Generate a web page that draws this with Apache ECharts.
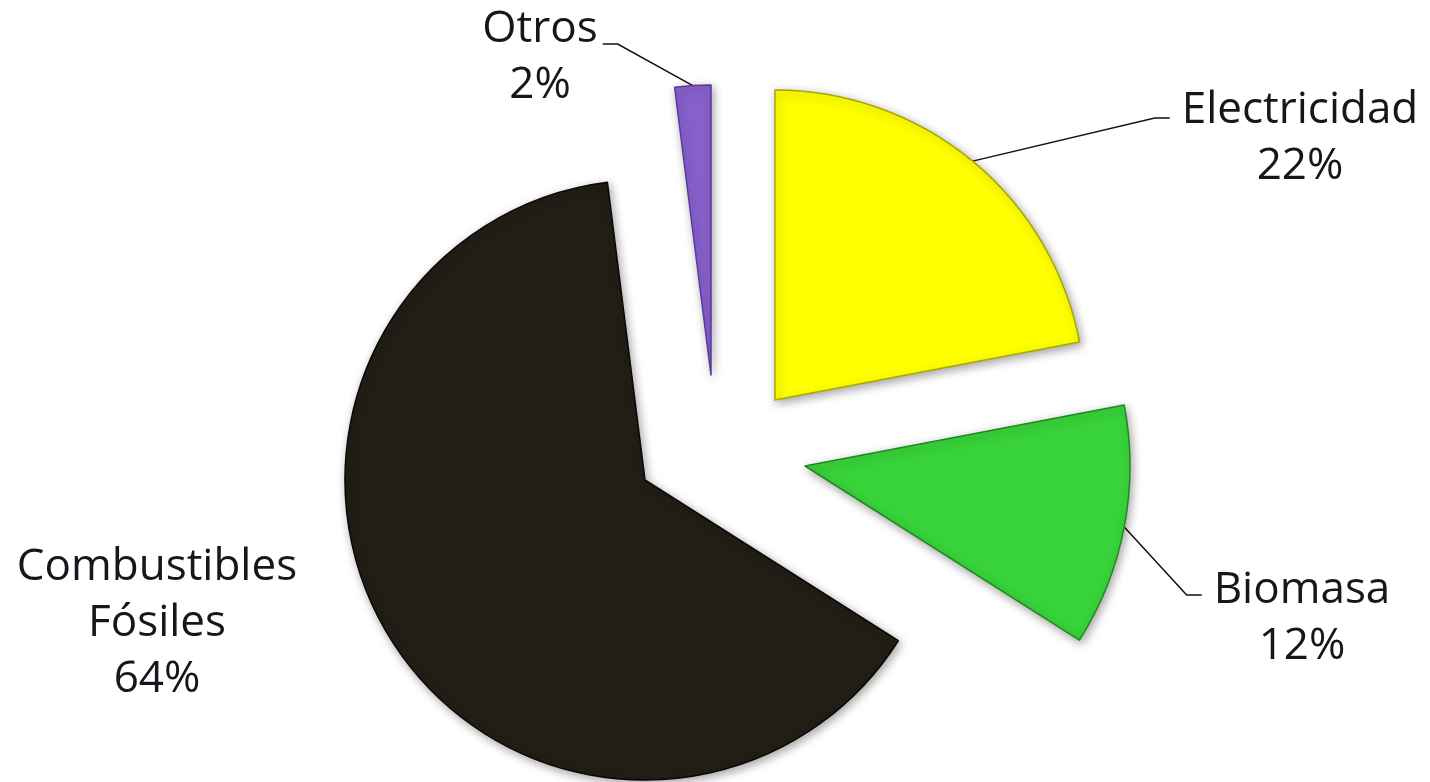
<!DOCTYPE html>
<html>
<head>
<meta charset="utf-8">
<script src="https://cdn.jsdelivr.net/npm/echarts@6/dist/echarts.min.js"></script>
<style>
  html, body { margin: 0; padding: 0; background: #fff; }
  #pieChart { width: 1430px; height: 782px; }
</style>
</head>
<body>
<div id="pieChart"></div>
<script>
  // datos del gráfico
  const categories = ['Electricidad', 'Biomasa', 'Combustibles\nFósiles', 'Otros']
  const shares = [22, 12, 64, 2]

  // estilo / posición de cada porción (separada, "explotada")
  const colors = ['#ffff00', '#38d23a', '#221e16', '#8660cc']
  const borders = ['#a8a800', '#1f8a22', '#0a0805', '#5a3a99']
  const apex = [[775, 400], [805, 466], [645, 480], [711, 375]]
  const radius = [310, 325, 300, 290]
  const labelAt = [[1300, 138], [1302, 618], [157, 623], [540, 57]]
  const lineDrop = [36, 33, 0, 43] // altura de la línea guía dentro del texto

  let chart = echarts.init(document.getElementById('pieChart'))

  function placeLabel(k, params) {
    let w = params.labelRect.width
    let h = params.labelRect.height
    let left = labelAt[k][0] - w / 2
    let top = labelAt[k][1] - h / 2
    let out = { x: labelAt[k][0], y: labelAt[k][1], align: 'center', verticalAlign: 'middle' }
    let pts = params.labelLinePoints
    if (pts && pts.length) {
      let y = top + lineDrop[k]
      let start = pts[0]
      if (labelAt[k][0] > apex[k][0]) {
        out.labelLinePoints = [start, [left - 27, y], [left - 12, y]]
      } else {
        out.labelLinePoints = [start, [left + w + 20, y], [left + w + 5, y]]
      }
    }
    return out
  }

  let series = categories.map((name, k) => {
    return {
      type: 'pie',
      silent: true,
      animation: false,
      center: apex[k],
      radius: radius[k],
      startAngle: 90,
      clockwise: true,
      avoidLabelOverlap: false,
      label: {
        show: true,
        color: '#16161c',
        fontFamily: 'Open Sans',
        fontSize: 44,
        lineHeight: 56,
        align: 'center',
        formatter: p => p.name + '\n' + p.value + '%'
      },
      labelLine: {
        show: true,
        lineStyle: { color: '#111', width: 1.5 }
      },
      labelLayout: params => {
        if (params.dataIndex !== k) return {}
        return placeLabel(k, params)
      },
      data: categories.map((n, j) => {
        let own = j === k
        return {
          name: n,
          value: shares[j],
          itemStyle: own ? {
            color: colors[j],
            borderColor: borders[j],
            borderWidth: 1.5,
            shadowBlur: 10,
            shadowColor: 'rgba(0,0,0,0.35)',
            shadowOffsetX: 2,
            shadowOffsetY: 3
          } : { color: 'rgba(0,0,0,0)', borderWidth: 0 },
          label: { show: own },
          labelLine: { show: own && k !== 2 }
        }
      })
    }
  })

  chart.setOption({
    backgroundColor: '#fff',
    series: series
  })
</script>
</body>
</html>
